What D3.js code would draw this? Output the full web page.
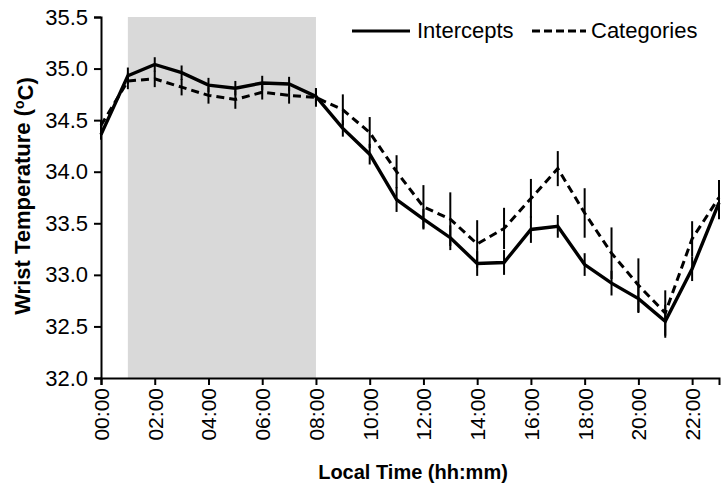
<!DOCTYPE html>
<html>
<head>
<meta charset="utf-8">
<script src="https://cdn.jsdelivr.net/npm/d3@7"></script>
<style>
  body { margin: 0; background: #fff; }
  text { font-family: "Liberation Sans", Arial, sans-serif; }
</style>
</head>
<body>
<div id="container"></div>
<script>
const width = 723;
const height = 490;

// hours of day
const hours = [0,1,2,3,4,5,6,7,8,9,10,11,12,13,14,15,16,17,18,19,20,21,22,23];
const intercepts = [34.36,34.93,35.04,34.96,34.84,34.81,34.86,34.85,34.73,34.42,34.17,33.73,33.54,33.36,33.11,33.12,33.44,33.47,33.10,32.92,32.77,32.55,33.06,33.70];
const interceptsErr = [0.05,0.08,0.07,0.07,0.07,0.07,0.07,0.07,0.08,0.08,0.10,0.12,0.10,0.12,0.12,0.12,0.13,0.11,0.11,0.12,0.14,0.16,0.12,0.16];
const categories = [34.45,34.88,34.90,34.82,34.74,34.70,34.77,34.74,34.72,34.60,34.38,34.00,33.66,33.54,33.30,33.45,33.74,34.03,33.60,33.21,32.90,32.63,33.35,33.75];
const categoriesErr = [0.05,0.08,0.08,0.08,0.08,0.09,0.07,0.08,0.09,0.15,0.15,0.16,0.21,0.26,0.23,0.20,0.19,0.17,0.24,0.25,0.26,0.22,0.17,0.17];
const yTicks = [32.0,32.5,33.0,33.5,34.0,34.5,35.0,35.5];
const xTicks = [0,2,4,6,8,10,12,14,16,18,20,22];
const nightBand = [1, 8];

const svg = d3.select("#container")
  .append("svg")
  .attr("width", width)
  .attr("height", height);

const x = d3.scaleLinear().domain([0, 23]).range([101, 719]);
const y = d3.scaleLinear().domain([32, 35.5]).range([378, 17]);

// shaded sleep period
svg.append("rect")
  .attr("x", x(nightBand[0]))
  .attr("y", y(35.5))
  .attr("width", x(nightBand[1]) - x(nightBand[0]))
  .attr("height", y(32) - y(35.5))
  .attr("fill", "#d9d9d9");

const fmt = h => (h < 10 ? "0" : "") + h + ":00";

// axes
const yAxis = svg.append("g")
  .attr("transform", `translate(${x(0)},0)`)
  .call(d3.axisLeft(y).tickValues(yTicks).tickFormat(d3.format(".1f")).tickSize(7).tickPadding(6));
yAxis.select(".domain").attr("stroke-width", 2);
yAxis.selectAll(".tick line").attr("stroke-width", 2);
yAxis.selectAll("text").style("font-size", "22px").attr("fill", "#000");

const xAxis = svg.append("g")
  .attr("transform", `translate(0,${y(32)})`)
  .call(d3.axisBottom(x).tickValues(xTicks).tickFormat(fmt).tickSizeOuter(0).tickSize(7).tickPadding(6));
xAxis.select(".domain").attr("stroke-width", 2);
xAxis.selectAll(".tick line").attr("stroke-width", 2);
xAxis.selectAll("text")
  .style("font-size", "21px")
  .attr("fill", "#000")
  .attr("transform", "rotate(-90)")
  .attr("text-anchor", "end")
  .attr("dx", "-10px")
  .attr("dy", "0.35em")
  .attr("y", 0)
  .attr("x", 0);

// error bars
function errorBars(vals, errs) {
  svg.append("g").selectAll("line")
    .data(hours)
    .enter()
    .append("line")
    .attr("x1", d => x(d))
    .attr("x2", d => x(d))
    .attr("y1", (d, i) => y(vals[i] - errs[i]))
    .attr("y2", (d, i) => y(vals[i] + errs[i]))
    .attr("stroke", "#000")
    .attr("stroke-width", 2);
}
errorBars(categories, categoriesErr);
errorBars(intercepts, interceptsErr);

const line = vals => d3.line().x(d => x(d)).y((d, i) => y(vals[i]))(hours);

svg.append("path")
  .attr("d", line(categories))
  .attr("fill", "none")
  .attr("stroke", "#000")
  .attr("stroke-width", 3)
  .attr("stroke-dasharray", "8,5");

svg.append("path")
  .attr("d", line(intercepts))
  .attr("fill", "none")
  .attr("stroke", "#000")
  .attr("stroke-width", 3.4);

// legend
const legend = svg.append("g");
legend.append("line").attr("x1", 352).attr("x2", 410).attr("y1", 31).attr("y2", 31)
  .attr("stroke", "#000").attr("stroke-width", 3);
legend.append("text").attr("x", 417).attr("y", 38).style("font-size", "22px").text("Intercepts");
legend.append("line").attr("x1", 532).attr("x2", 586).attr("y1", 31).attr("y2", 31)
  .attr("stroke", "#000").attr("stroke-width", 3).attr("stroke-dasharray", "8,4");
legend.append("text").attr("x", 591).attr("y", 38).style("font-size", "22px").text("Categories");

// axis titles
const yTitle = svg.append("text")
  .attr("transform", "translate(30,196) rotate(-90)")
  .attr("text-anchor", "middle")
  .style("font-size", "22px")
  .style("font-weight", "bold");
yTitle.append("tspan").text("Wrist Temperature  (");
yTitle.append("tspan").attr("dy", "-0.4em").style("font-size", "14px").text("o");
yTitle.append("tspan").attr("dy", "0.4em").text("C)");

svg.append("text")
  .attr("x", 413)
  .attr("y", 479)
  .attr("text-anchor", "middle")
  .style("font-size", "20px")
  .style("font-weight", "bold")
  .text("Local Time (hh:mm)");
</script>
</body>
</html>
